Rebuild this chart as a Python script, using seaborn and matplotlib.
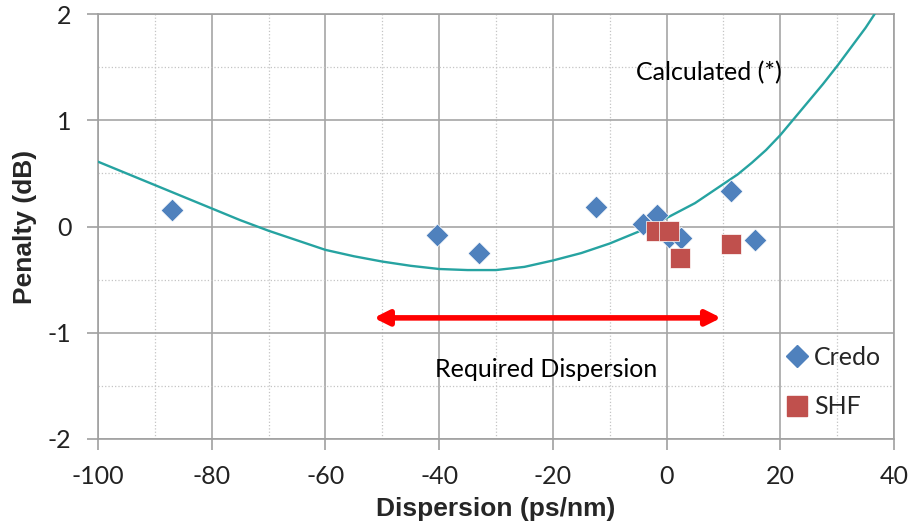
import pandas as pd
import seaborn as sns
import matplotlib.pyplot as plt
from matplotlib.ticker import MultipleLocator
from matplotlib.lines import Line2D

credo_disp = [-87.0, -40.3, -33.0, -12.4, -4.1, -1.7, 0.4, 2.5, 11.4, 15.5]
credo_pen = [0.16, -0.08, -0.25, 0.18, 0.02, 0.11, -0.10, -0.11, 0.33, -0.13]
shf_disp = [-1.8, 0.4, 2.4, 11.4]
shf_pen = [-0.04, -0.04, -0.30, -0.16]

# calculated curve
calc_disp = [-100, -95, -90, -85, -80, -75, -70, -65, -60, -55, -50, -45, -40, -35,
             -30, -25, -20, -15, -10, -5, 0, 2.5, 5, 7.5, 10, 12.5, 15, 17.5, 20,
             22.5, 25, 27.5, 30, 32.5, 35, 36.6]
calc_pen = [0.61, 0.50, 0.39, 0.28, 0.17, 0.06, -0.04, -0.13, -0.22, -0.28, -0.33,
            -0.37, -0.40, -0.41, -0.41, -0.38, -0.32, -0.25, -0.16, -0.05, 0.08,
            0.15, 0.22, 0.31, 0.40, 0.49, 0.60, 0.72, 0.86, 1.02, 1.18, 1.34,
            1.51, 1.69, 1.87, 2.0]

# required dispersion range
req_range = [-51.5, 9.6]
req_level = -0.86

BLUE = "#4F81BD"
RED = "#C0504D"
TEAL = "#26A3A1"

sns.set_style("white")
plt.rcParams["font.family"] = ["Lato", "DejaVu Sans"]
plt.rcParams["axes.unicode_minus"] = False

fig = plt.figure(figsize=(9.16, 5.24), dpi=100)
ax = fig.add_axes([98 / 916, 1 - 439 / 524, 796 / 916, 425 / 524])

credo = pd.DataFrame({"disp": credo_disp, "pen": credo_pen})
shf = pd.DataFrame({"disp": shf_disp, "pen": shf_pen})
calc = pd.DataFrame({"disp": calc_disp, "pen": calc_pen})

sns.lineplot(data=calc, x="disp", y="pen", color=TEAL, lw=1.7, sort=False, ax=ax, zorder=3)
sns.scatterplot(data=credo, x="disp", y="pen", marker="D", s=135, color=BLUE,
                edgecolor="white", linewidth=0.5, ax=ax, zorder=4)
sns.scatterplot(data=shf, x="disp", y="pen", marker="s", s=200, color=RED,
                edgecolor="white", linewidth=0.5, ax=ax, zorder=5)

ax.annotate("", xy=(req_range[1], req_level), xytext=(req_range[0], req_level),
            arrowprops=dict(arrowstyle="<|-|>", color="#FF0000", lw=4,
                            mutation_scale=22, shrinkA=0, shrinkB=0), zorder=6)
ax.text(-21.1, -1.35, "Required Dispersion", fontsize=18,
        ha="center", va="center", color="black")
ax.text(7.4, 1.45, "Calculated (*)", fontsize=18, ha="center", va="center", color="black")

ax.set_xlim(-100, 40)
ax.set_ylim(-2, 2)
ax.xaxis.set_major_locator(MultipleLocator(20))
ax.xaxis.set_minor_locator(MultipleLocator(10))
ax.yaxis.set_major_locator(MultipleLocator(1))
ax.yaxis.set_minor_locator(MultipleLocator(0.5))
ax.grid(which="major", color="#A6A6A6", lw=1.2, ls="-")
ax.grid(which="minor", color="#C4C4C4", lw=0.9, ls=":")
ax.set_axisbelow(True)
for sp in ax.spines.values():
    sp.set_color("#A0A0A0")
    sp.set_linewidth(1.2)

ax.tick_params(which="major", direction="out", length=8, width=1.2, color="#A0A0A0",
               labelsize=18, labelcolor="#222222", bottom=True, left=True)
ax.tick_params(which="minor", length=0)
ax.tick_params(axis="x", pad=11)
ax.tick_params(axis="y", pad=11)

ax.set_xlabel("Dispersion (ps/nm)", fontsize=19, fontweight="bold",
              family="Liberation Sans", labelpad=6)
ax.set_ylabel("Penalty (dB)", fontsize=19, fontweight="bold",
              family="Liberation Sans", labelpad=8)

handles = [
    Line2D([], [], marker="D", ls="", color=BLUE, markersize=11),
    Line2D([], [], marker="s", ls="", color=RED, markersize=14),
]
ax.legend(handles, ["Credo", "SHF"], loc="lower left", bbox_to_anchor=(0.848, 0.025),
          frameon=False, fontsize=18, labelspacing=1.05, handletextpad=0.15,
          handlelength=1.1, borderaxespad=0)

fig.savefig("out.png", dpi=100)
